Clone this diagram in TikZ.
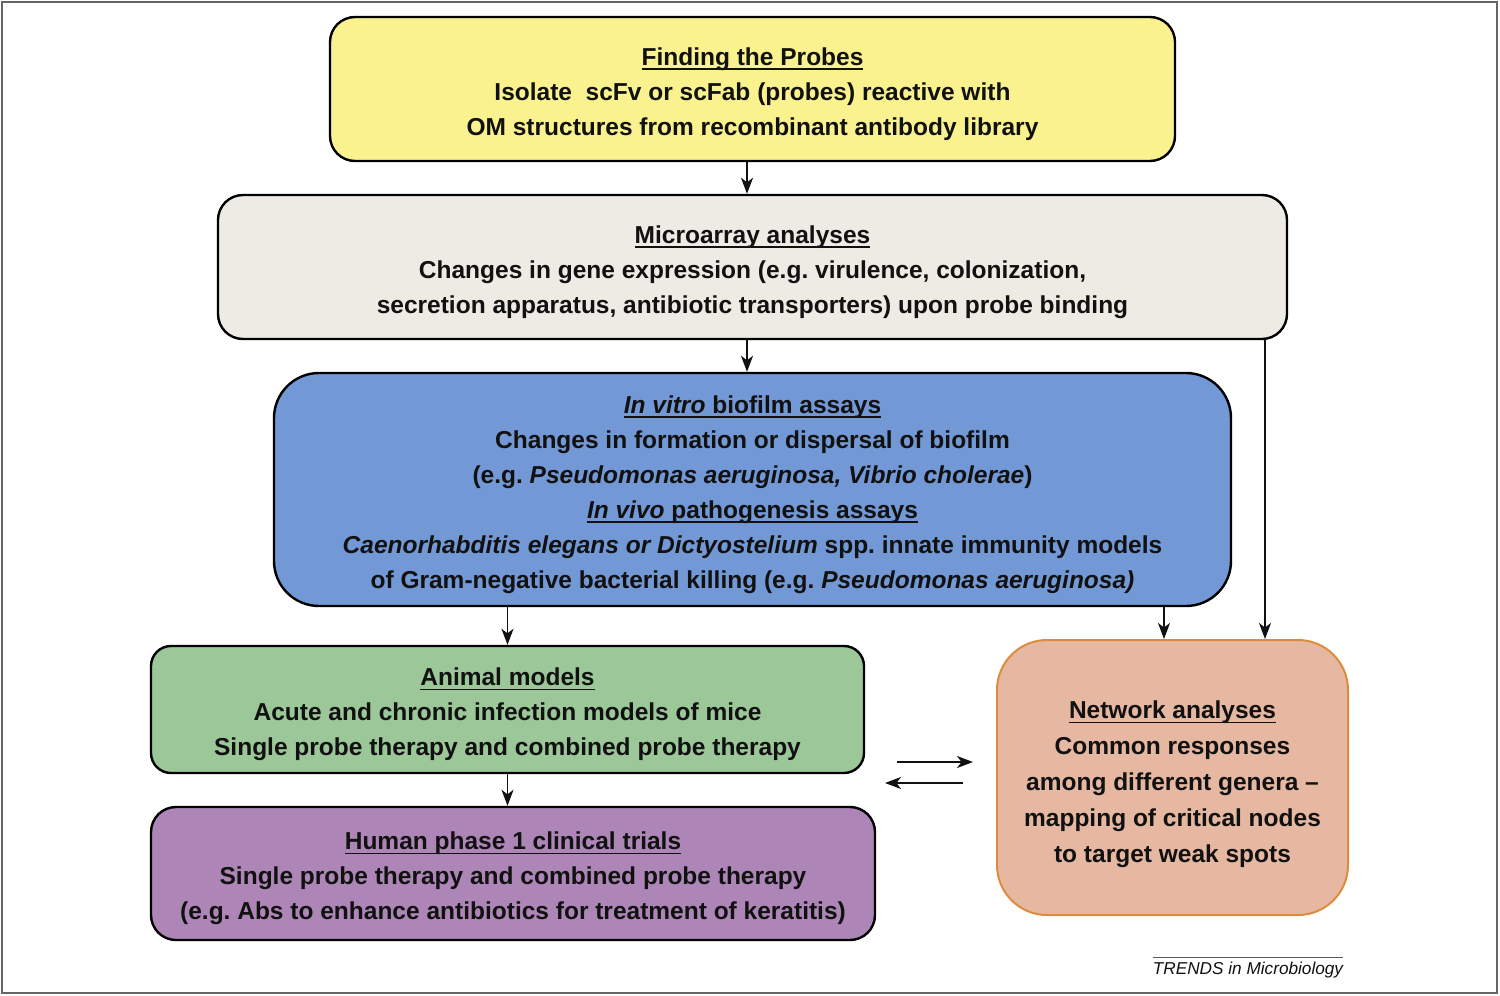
\documentclass[tikz,border=0pt]{standalone}
\usepackage{fontspec}
\setmainfont{Liberation Sans}
\usetikzlibrary{arrows.meta}
\definecolor{cyel}{HTML}{F9F28E}
\definecolor{cgray}{HTML}{EDEBE3}
\definecolor{cblue}{HTML}{7398D6}
\definecolor{cgreen}{HTML}{9CC799}
\definecolor{cpurple}{HTML}{AD86B7}
\definecolor{csalmon}{HTML}{E6B8A2}
\definecolor{corange}{HTML}{DD8C3E}
\definecolor{ctext}{HTML}{111111}
\frenchspacing
\newcommand\ulx[1]{\setbox0\hbox{#1}\rlap{\rule[-4.5pt]{\wd0}{1.8pt}}\box0}
\newcommand\tstrut[1]{\rule{0pt}{#1}}
\begin{document}
\begin{tikzpicture}[x=1pt,y=-1pt,
  box/.style={draw=black, line width=2.4pt, align=center, inner sep=0pt,
    text=ctext, font=\fontsize{24.5}{35}\selectfont\bfseries},
  arr/.style={line width=1.8pt, draw=ctext,
    -{Stealth[length=16pt,width=12pt,inset=4.5pt]}}]
\useasboundingbox (0,0) rectangle (1500,996);
\draw[draw=gray!80!black, line width=2.2pt] (2,2) rectangle (1497,993);

\node[box, fill=cyel, rounded corners=25pt, minimum width=845pt, minimum height=144pt]
  (yel) at (752.5,89) {\tstrut{28pt}\ulx{Finding the Probes}\\
  Isolate\ \ scFv or scFab (probes) reactive with\\
  OM structures from recombinant antibody library};

\node[box, fill=cgray, rounded corners=25pt, minimum width=1069pt, minimum height=144pt]
  (gry) at (752.5,267) {\tstrut{28pt}\ulx{Microarray analyses}\\
  Changes in gene expression (e.g. virulence, colonization,\\
  secretion apparatus, antibiotic transporters) upon probe binding};

\node[box, fill=cblue, rounded corners=45pt, minimum width=957pt, minimum height=233pt]
  (blu) at (752.5,489.5) {\tstrut{28pt}\ulx{\textit{In vitro} biofilm assays}\\
  Changes in formation or dispersal of biofilm\\
  (e.g. \textit{Pseudomonas aeruginosa, Vibrio cholerae})\\
  \ulx{\textit{In vivo} pathogenesis assays}\\
  \textit{Caenorhabditis elegans or Dictyostelium} spp. innate immunity models\\
  of Gram-negative bacterial killing (e.g. \textit{Pseudomonas aeruginosa)}};

\node[box, fill=cgreen, rounded corners=20pt, minimum width=713pt, minimum height=127pt]
  (grn) at (507.5,709.5) {\tstrut{28pt}\ulx{Animal models}\\
  Acute and chronic infection models of mice\\
  Single probe therapy and combined probe therapy};

\node[box, fill=cpurple, rounded corners=25pt, minimum width=724pt, minimum height=133pt]
  (pur) at (513,873.5) {\tstrut{28pt}\ulx{Human phase 1 clinical trials}\\
  Single probe therapy and combined probe therapy\\
  (e.g. Abs to enhance antibiotics for treatment of keratitis)};

\node[box, draw=corange, line width=2pt, fill=csalmon, rounded corners=50pt,
  minimum width=351pt, minimum height=275pt,
  font=\fontsize{24.5}{36}\selectfont\bfseries]
  (net) at (1172.5,777.5) {\tstrut{32pt}\ulx{Network analyses}\\
  Common responses\\
  among different genera --\\
  mapping of critical nodes\\
  to target weak spots};

\coordinate (r1) at (897,762);
\coordinate (r2) at (973,762);
\coordinate (l1) at (963,783);
\coordinate (l2) at (885,783);
\coordinate (n1) at ([xshift=-8.5pt]net.north);
\coordinate (n2) at ([xshift=92.5pt]net.north);
\coordinate (y1) at ([xshift=-5.5pt]yel.south);
\coordinate (g1) at ([xshift=-5.5pt]gry.south);

\draw[arr] (y1) -- (y1 |- gry.north);
\draw[arr] (g1) -- (g1 |- blu.north);
\draw[arr] (blu.south -| grn.north) -- (grn.north);
\draw[arr] (blu.south -| n1) -- (n1);
\draw[arr] (gry.south -| n2) -- (n2);
\draw[arr] (grn.south) -- (pur.north -| grn.south);
\draw[arr] (r1) -- (r2);
\draw[arr] (l1) -- (l2);

\node[inner sep=0pt, text=ctext, font=\fontsize{17.2}{19}\selectfont\itshape]
  (trd) at (1248,970) {TRENDS in Microbiology};
\draw[gray!70!black, line width=1pt] ([yshift=4pt]trd.north west) -- ([yshift=4pt]trd.north east);
\end{tikzpicture}
\end{document}
